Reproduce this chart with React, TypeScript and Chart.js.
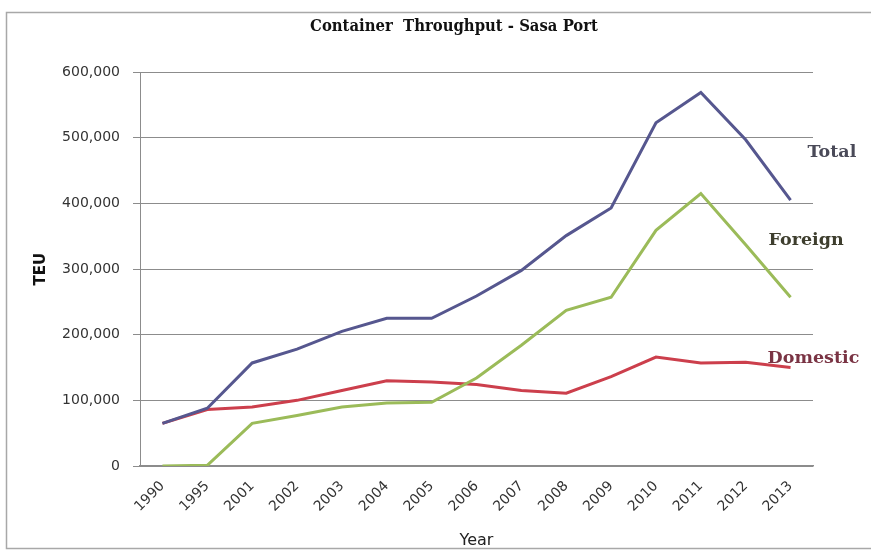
import React, { useEffect, useRef } from "react";
import { Chart, registerables } from "chart.js";

Chart.register(...registerables);

const years = ["1990", "1995", "2001", "2002", "2003", "2004", "2005", "2006", "2007", "2008", "2009", "2010", "2011", "2012", "2013"];
const totalTEU = [65000, 88000, 157000, 178000, 205000, 225000, 225000, 259000, 298000, 351000, 393000, 523000, 569000, 497000, 405000];
const foreignTEU = [0, 1000, 65000, 77000, 90000, 96000, 97000, 134000, 184000, 237000, 257000, 359000, 415000, 337000, 257000];
const domesticTEU = [65000, 86000, 90000, 100000, 115000, 130000, 128000, 124000, 115000, 111000, 136000, 166000, 157000, 158000, 150000];
const seriesNames = ["Total", "Foreign", "Domestic"];
const yTicks = [0, 100000, 200000, 300000, 400000, 500000, 600000];

const lineColors = ["#56578f", "#9bbb59", "#cc3f4c"];
const labelColors = ["#4a4a58", "#3e3e2e", "#7a3444"];
// where each series name sits: value level on the y scale and x offset from the last category
const labelAnchors = [
  { value: 477000, dx: 17 },
  { value: 344000, dx: -22 },
  { value: 164000, dx: -23 },
];

const framePlugin = {
  id: "frame",
  afterLayout(chart: any) {
    // Excel centres the title a little left of the plot centre
    if (chart.titleBlock) {
      chart.titleBlock.left = 37;
      chart.titleBlock.right = chart.width;
    }
  },
  beforeDraw(chart: any) {
    const ctx = chart.ctx;
    ctx.save();
    ctx.fillStyle = "#ffffff";
    ctx.fillRect(0, 0, chart.width, chart.height);
    ctx.strokeStyle = "#a8a8a8";
    ctx.lineWidth = 1.5;
    ctx.strokeRect(6.5, 12.5, chart.width, chart.height - 18);
    ctx.restore();
  },
};

const seriesLabelPlugin = {
  id: "seriesLabels",
  afterDatasetsDraw(chart: any) {
    const ctx = chart.ctx;
    const xs = chart.scales.x;
    const ys = chart.scales.y;
    const lastX = xs.getPixelForValue(years.length - 1);
    ctx.save();
    ctx.font = "bold 17.5px 'DejaVu Serif', serif";
    ctx.textAlign = "left";
    ctx.textBaseline = "middle";
    seriesNames.forEach((name, i) => {
      ctx.fillStyle = labelColors[i];
      ctx.fillText(name, lastX + labelAnchors[i].dx, ys.getPixelForValue(labelAnchors[i].value));
    });
    ctx.restore();
  },
};

export default function App() {
  const canvasRef = useRef<HTMLCanvasElement>(null);

  useEffect(() => {
    const canvas = canvasRef.current;
    if (!canvas) return;
    const seriesData = [totalTEU, foreignTEU, domesticTEU];
    const chart = new Chart(canvas, {
      type: "line",
      data: {
        labels: years,
        datasets: seriesNames.map((name, i) => ({
          label: name,
          data: seriesData[i],
          borderColor: lineColors[i],
          backgroundColor: lineColors[i],
          borderWidth: 3,
          pointRadius: 0,
          tension: 0,
          fill: false,
        })),
      },
      options: {
        responsive: false,
        animation: false,
        layout: { padding: { left: 28, right: 58, top: 12, bottom: 2 } },
        plugins: {
          legend: { display: false },
          tooltip: { enabled: false },
          title: {
            display: true,
            text: "Container  Throughput - Sasa Port",
            color: "#111111",
            font: { family: "'DejaVu Serif Condensed', 'DejaVu Serif', serif", weight: "bold", size: 16.5, lineHeight: 1.1 },
            padding: { top: 6, bottom: 36 },
          },
        },
        scales: {
          x: {
            type: "category",
            offset: true,
            grid: { display: false },
            border: { display: true, color: "#8c8c8c", width: 1.5 },
            ticks: {
              minRotation: 45,
              maxRotation: 45,
              autoSkip: false,
              padding: 4,
              color: "#333333",
              font: { family: "'DejaVu Sans', sans-serif", size: 14 },
            },
            title: {
              display: true,
              text: "Year",
              color: "#222222",
              font: { family: "'DejaVu Sans', sans-serif", size: 16 },
              padding: { top: 0, bottom: 2 },
            },
            afterFit: (scale: any) => {
              scale.height = 86;
            },
          },
          y: {
            min: 0,
            max: 600000,
            afterBuildTicks: (scale: any) => {
              scale.ticks = yTicks.map((v) => ({ value: v }));
            },
            grid: { color: "#8c8c8c", lineWidth: 1, tickLength: 7, drawTicks: true },
            border: { display: true, color: "#8c8c8c", width: 1 },
            ticks: {
              padding: 13,
              color: "#333333",
              font: { family: "'DejaVu Sans', sans-serif", size: 14 },
              callback: (v: any) => Number(v).toLocaleString("en-US"),
            },
            title: {
              display: true,
              text: "TEU",
              color: "#111111",
              font: { family: "'DejaVu Sans', sans-serif", size: 15, weight: "bold" },
              padding: { top: 4, bottom: 4 },
            },
            afterFit: (scale: any) => {
              scale.width = 112;
            },
          },
        },
      },
      plugins: [framePlugin, seriesLabelPlugin],
    } as any);
    return () => chart.destroy();
  }, []);

  return (
    <div style={{ position: "absolute", left: 0, top: 0, width: 871, height: 554 }}>
      <canvas ref={canvasRef} width={871} height={554} style={{ display: "block" }} />
    </div>
  );
}
